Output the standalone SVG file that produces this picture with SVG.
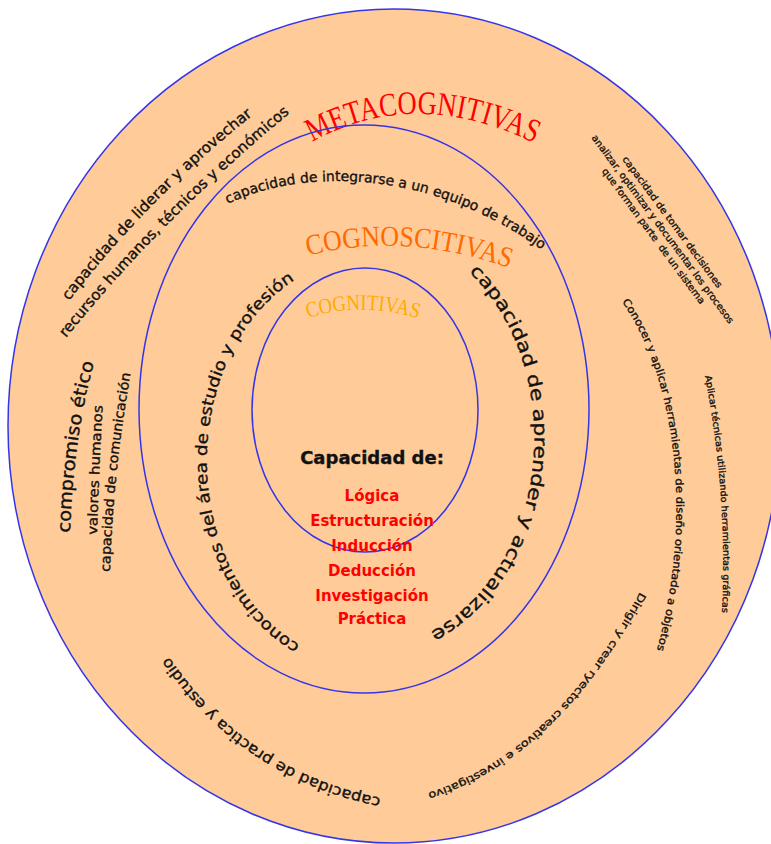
<svg xmlns="http://www.w3.org/2000/svg" xmlns:xlink="http://www.w3.org/1999/xlink" width="771" height="844" viewBox="0 0 771 844">
<style>
.ring{fill:#FFCC99;stroke:#3535E8;stroke-width:1.5}
.inner{fill:none;stroke:#3535E8;stroke-width:1.5}
.t{font-family:"DejaVu Sans",Verdana,sans-serif;fill:#111;stroke:#111;stroke-width:0.35}
.ser{font-family:"Liberation Serif","Times New Roman",serif}
.red{font-family:"DejaVu Sans",Verdana,sans-serif;font-weight:bold;font-size:15px;fill:#FF0000;text-anchor:middle}
</style>
<defs>
<path id="pMeta" d="M 312 142 Q 420 82 548 150"/>
<path id="pCogno" d="M 308 256 Q 405 230 515 270"/>
<path id="pCog" d="M 308 318 Q 364 300 426 321"/>
<path id="pInteg" d="M 228 204 C 290 172, 430 160, 555 260"/>
<path id="pLider" d="M 69 301 Q 151 194 262 108"/>
<path id="pRecur" d="M 66 338 Q 165 215 296 108"/>
<path id="pConocer" d="M 622 302 C 668 365, 698 500, 657 650"/>
<path id="pAplicar" d="M 705 376 Q 728 495 722 615"/>
<path id="pDirigir" d="M 640 592 Q 550 760 420 795"/>
<path id="pPract" d="M 381 798 Q 240 770 162 646"/>
<path id="pComp" d="M 70 533 Q 74 430 96 356"/>
<path id="pVal" d="M 97 535 Q 99 470 103 398"/>
<path id="pComu" d="M 110 572 Q 113 470 132 366"/>
<path id="pConoc" d="M 300 645 A 156 201 0 0 1 312 271"/>
<path id="pAprender" d="M 469 272 A 171 211 0 0 1 420 637"/>
</defs>
<rect width="771" height="844" fill="#FFFFFF"/>

<g id="metacognitivas">
<ellipse class="ring" cx="394" cy="426" rx="386" ry="417"/>
<text class="ser" font-size="33" fill="#FF0000"><textPath xlink:href="#pMeta" textLength="232" lengthAdjust="spacingAndGlyphs">METACOGNITIVAS</textPath></text>
<text class="t" font-size="15"><textPath xlink:href="#pLider" textLength="262" lengthAdjust="spacingAndGlyphs">capacidad de liderar y aprovechar</textPath></text>
<text class="t" font-size="15"><textPath xlink:href="#pRecur" textLength="318" lengthAdjust="spacingAndGlyphs">recursos humanos, técnicos y económicos</textPath></text>
<g transform="translate(663,229) rotate(53.5)" class="t" font-size="9.5" text-anchor="middle" stroke-width="0.3">
<text x="0" y="-8.5" textLength="161" lengthAdjust="spacingAndGlyphs">capacidad de tomar decisiones</text>
<text x="0" y="3.5" textLength="232" lengthAdjust="spacingAndGlyphs">analizar, optimizar y documentar los procesos</text>
<text x="0" y="15" textLength="166" lengthAdjust="spacingAndGlyphs" style="white-space:pre">que forman parte  de un sistema</text>
</g>
<text class="t" font-size="10.5" stroke-width="0.3"><textPath xlink:href="#pConocer" textLength="360" lengthAdjust="spacingAndGlyphs">Conocer y aplicar herramientas de diseño orientado a objetos</textPath></text>
<text class="t" font-size="9" stroke-width="0.3"><textPath xlink:href="#pAplicar" textLength="238" lengthAdjust="spacingAndGlyphs">Aplicar técnicas utilizando herramientas gráficas</textPath></text>
<text class="t" font-size="10.5" stroke-width="0.3"><textPath xlink:href="#pDirigir" textLength="300" lengthAdjust="spacingAndGlyphs">Dirigir y crear ryectos creativos e investigativo</textPath></text>
<text class="t" font-size="15"><textPath xlink:href="#pPract" textLength="262" lengthAdjust="spacingAndGlyphs">capacidad de practica y estudio</textPath></text>
<text class="t" font-size="18"><textPath xlink:href="#pComp" textLength="172" lengthAdjust="spacingAndGlyphs">compromiso ético</textPath></text>
<text class="t" font-size="13.5"><textPath xlink:href="#pVal" textLength="130" lengthAdjust="spacingAndGlyphs">valores humanos</textPath></text>
<text class="t" font-size="13.5"><textPath xlink:href="#pComu" textLength="200" lengthAdjust="spacingAndGlyphs">capacidad de comunicación</textPath></text>
</g>

<g id="cognoscitivas">
<ellipse class="inner" cx="364" cy="409" rx="225" ry="284"/>
<text class="ser" font-size="29" fill="#FF6A00"><textPath xlink:href="#pCogno" textLength="205" lengthAdjust="spacingAndGlyphs">COGNOSCITIVAS</textPath></text>
<text class="t" font-size="14"><textPath xlink:href="#pInteg" textLength="332" lengthAdjust="spacingAndGlyphs">capacidad de integrarse a un equipo de trabajo</textPath></text>
<text class="t" font-size="16"><textPath xlink:href="#pConoc" textLength="425" lengthAdjust="spacingAndGlyphs">conocimientos del área de estudio y profesión</textPath></text>
<text class="t" font-size="18"><textPath xlink:href="#pAprender" textLength="414" lengthAdjust="spacingAndGlyphs">capacidad de aprender y actualizarse</textPath></text>
</g>

<g id="cognitivas">
<ellipse class="inner" cx="365" cy="410" rx="113" ry="142"/>
<text class="ser" font-size="22" fill="#FFAA00"><textPath xlink:href="#pCog" textLength="112" lengthAdjust="spacingAndGlyphs">COGNITIVAS</textPath></text>
<text class="t" x="372" y="464" font-size="18" font-weight="bold" text-anchor="middle" stroke-width="0">Capacidad de:</text>
<text class="red" x="372" y="501">Lógica</text>
<text class="red" x="372" y="526">Estructuración</text>
<text class="red" x="372" y="551">Inducción</text>
<text class="red" x="372" y="576">Deducción</text>
<text class="red" x="372" y="601">Investigación</text>
<text class="red" x="372" y="624">Práctica</text>
</g>
</svg>
